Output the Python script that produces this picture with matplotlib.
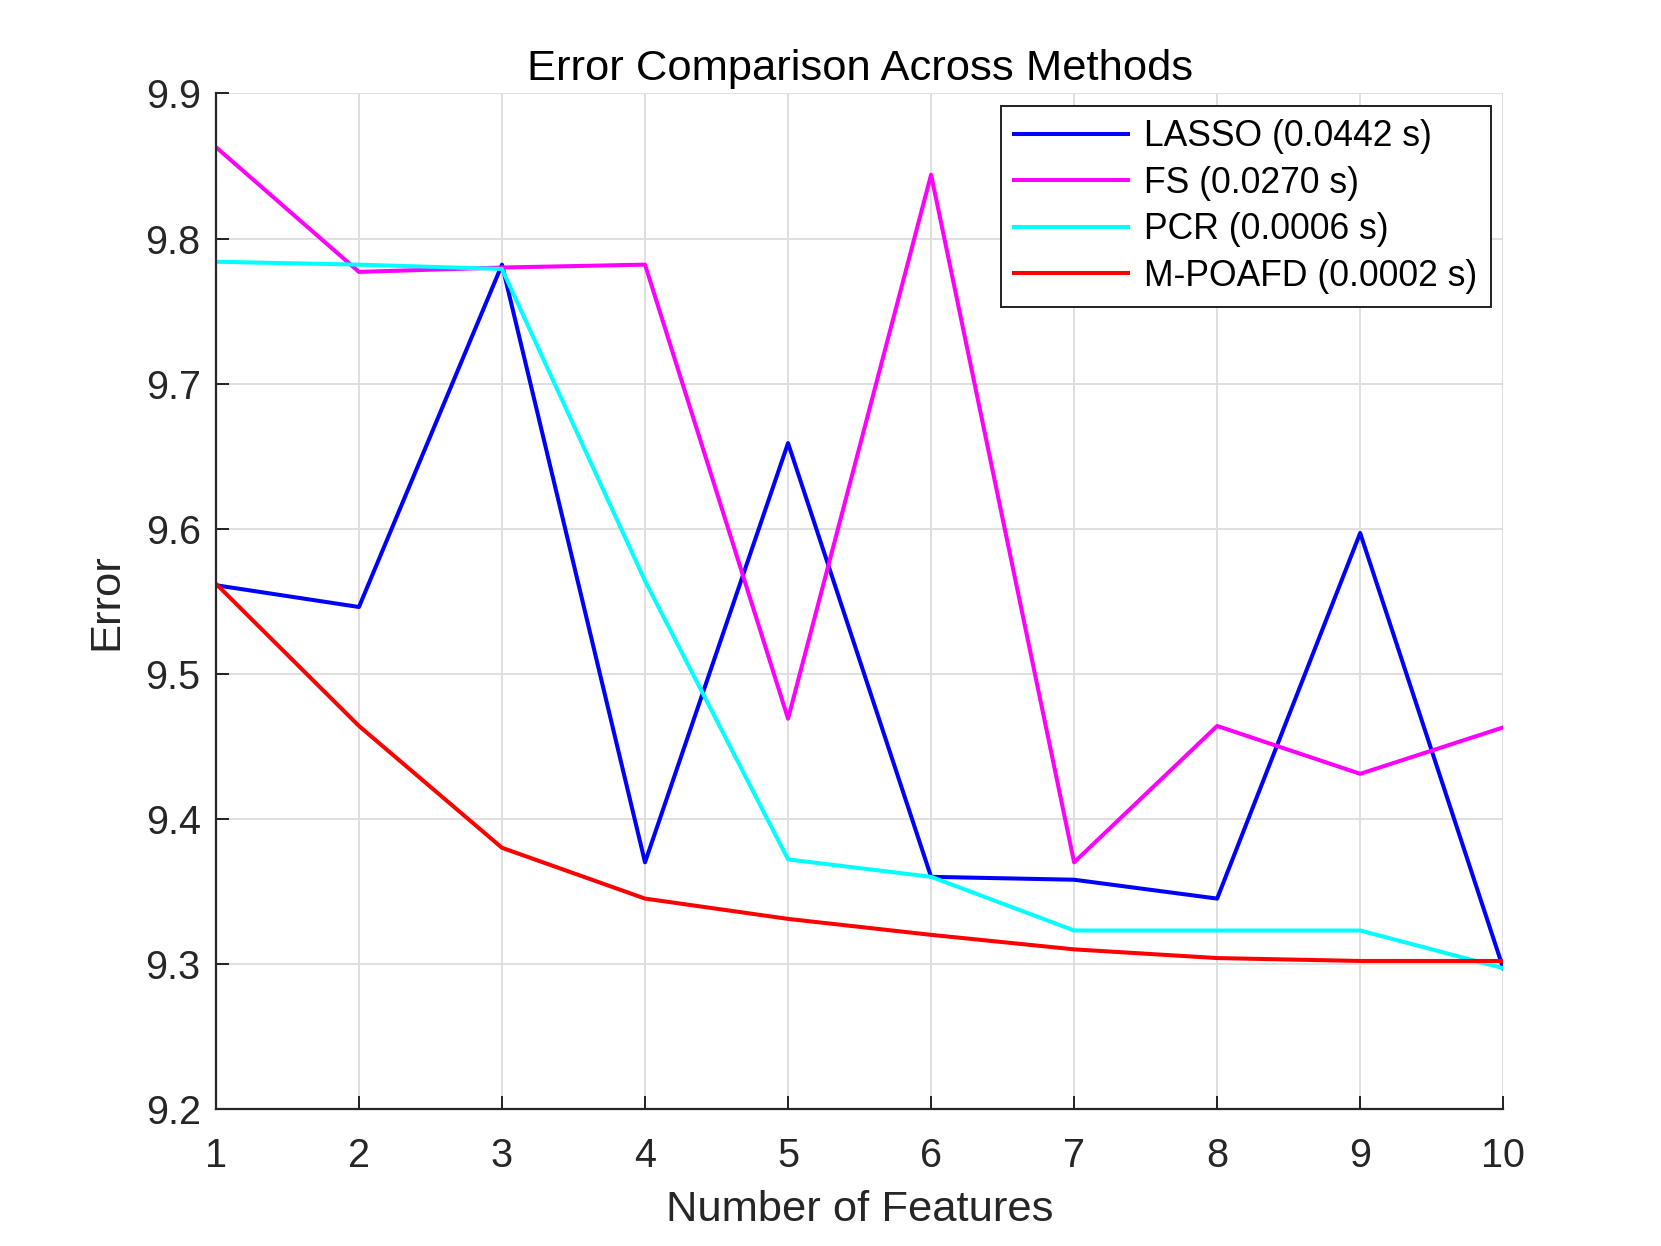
import matplotlib
matplotlib.use("Agg")
import matplotlib.pyplot as plt

features = [1, 2, 3, 4, 5, 6, 7, 8, 9, 10]
lasso = [9.561, 9.546, 9.782, 9.370, 9.659, 9.360, 9.358, 9.345, 9.597, 9.297]
fs = [9.863, 9.777, 9.780, 9.782, 9.469, 9.844, 9.370, 9.464, 9.431, 9.463]
pcr = [9.784, 9.782, 9.779, 9.564, 9.372, 9.360, 9.323, 9.323, 9.323, 9.297]
mpoafd = [9.562, 9.464, 9.380, 9.345, 9.331, 9.320, 9.310, 9.304, 9.302, 9.302]
labels = ["LASSO (0.0442 s)", "FS (0.0270 s)", "PCR (0.0006 s)", "M-POAFD (0.0002 s)"]
colors = ["#0000ff", "#ff00ff", "#00ffff", "#ff0000"]
yticks = [9.2, 9.3, 9.4, 9.5, 9.6, 9.7, 9.8, 9.9]

plt.rcParams['font.family'] = ['Liberation Sans', 'DejaVu Sans']

fig = plt.figure(figsize=(16.61, 12.46), dpi=100)
ax = fig.add_axes([0.13, 0.11, 0.775, 0.815])

for series, lab, col in zip([lasso, fs, pcr, mpoafd], labels, colors):
    ax.plot(features, series, color=col, lw=2.9, label=lab)

ax.set_xlim(1, 10)
ax.set_ylim(9.2, 9.9)
ax.set_xticks(features)
ax.set_yticks(yticks)
ax.set_yticklabels([f"{v:.1f}" for v in yticks])
ax.grid(True, color="#dfdfdf", lw=1.44)
ax.set_axisbelow(True)
for s in ['top', 'right']:
    ax.spines[s].set_visible(False)
for s in ['left', 'bottom']:
    ax.spines[s].set_color('#262626')
    ax.spines[s].set_linewidth(1.6)
ax.tick_params(direction='in', length=9.4, width=1.44, colors='#262626',
               labelsize=28.5, pad=11)
ax.tick_params(axis='x', pad=20)

ax.set_title("Error Comparison Across Methods", fontsize=31.3, color='black', pad=10)
ax.set_xlabel("Number of Features", fontsize=31.3, color='#262626', labelpad=11)
ax.set_ylabel("Error", fontsize=31.3, color='#262626', labelpad=14)

leg = ax.legend(loc='upper right', fontsize=25.6, frameon=True, fancybox=False,
                edgecolor='#262626', framealpha=1, handlelength=3.2,
                borderaxespad=0.35, labelspacing=0.32, handletextpad=0.45,
                borderpad=0.38)
leg.get_frame().set_linewidth(1.44)

fig.savefig("out.png", dpi=100)
